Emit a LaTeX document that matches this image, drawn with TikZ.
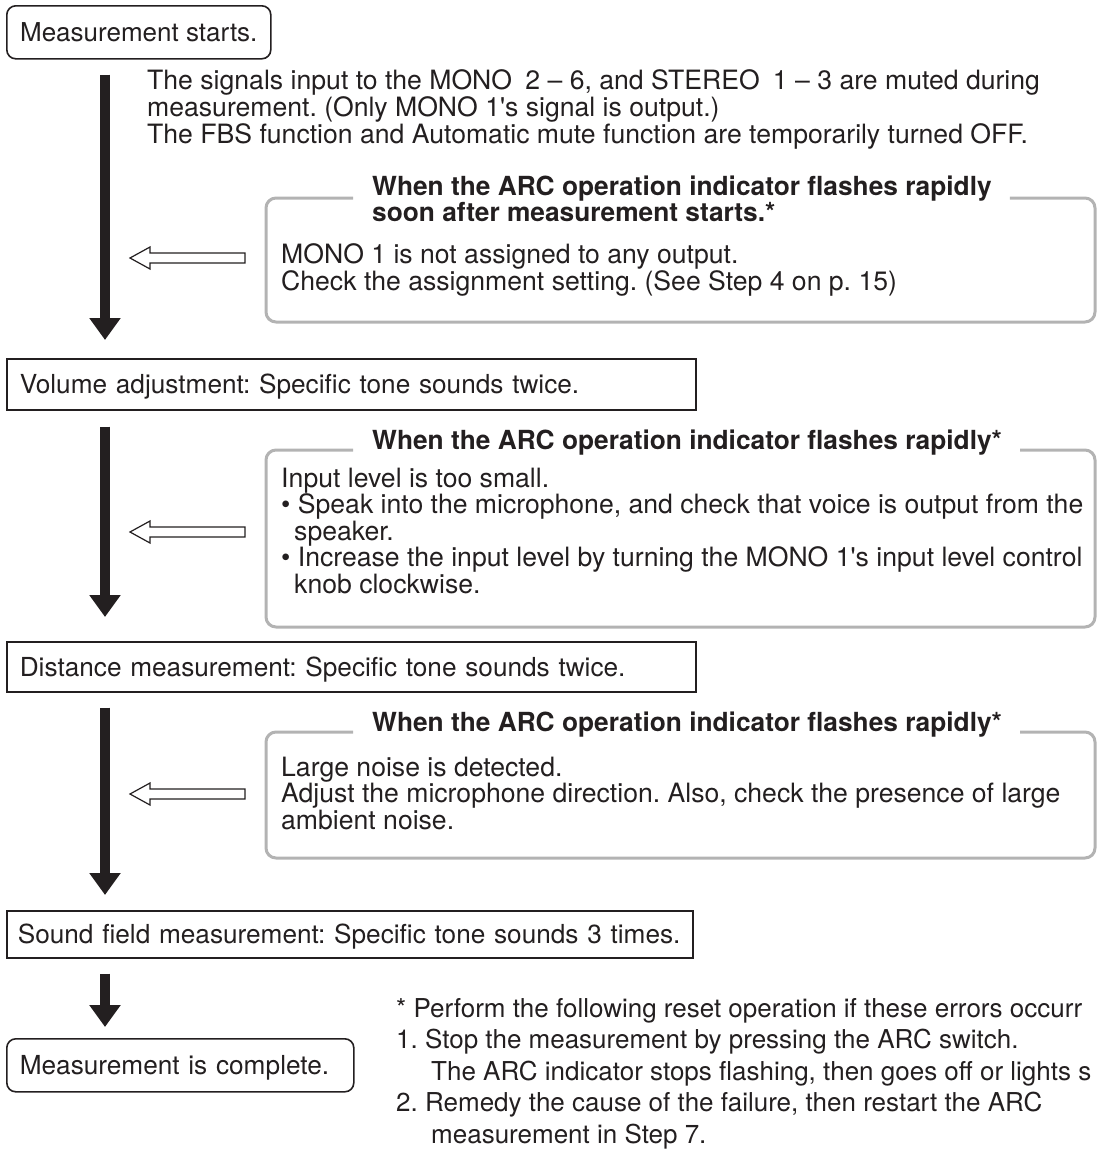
\documentclass[tikz,border=0pt]{standalone}
\usepackage{fontspec}
\setmainfont{TeX Gyre Heros}
\usetikzlibrary{arrows.meta, positioning, calc}
\definecolor{ink}{HTML}{231F20}
\definecolor{framegray}{HTML}{B3B3B3}
\frenchspacing

\begin{document}
\begin{tikzpicture}[x=1pt, y=-1pt,
    every node/.style={inner sep=0pt, text=ink, font=\fontsize{26.2}{24}\selectfont},
    stepbox/.style={draw=ink, line width=1.6pt, anchor=north west, inner xsep=13pt,
      text height=18.6pt, text depth=0pt, align=left},
    endbox/.style={stepbox, rounded corners=9pt},
    bodytext/.style={anchor=base west, align=left, font=\fontsize{26.6}{24}\selectfont},
    titletext/.style={bodytext, font=\fontsize{26.3}{24}\selectfont\bfseries},
    calloutframe/.style={draw=framegray, line width=3pt, rounded corners=10pt},
    flow/.style={draw=ink, line width=10pt, -{Triangle[width=30pt, length=22pt]}},
    hollow/.style={draw=ink, line width=1.2pt, fill=white, line join=miter}]

    \useasboundingbox (0,0) rectangle (1097,1149);
    \clip (0,0) rectangle (1097,1149);

    % Steps of the measurement
    \node[endbox, minimum width=264pt, minimum height=53pt, font=\fontsize{26}{24}\selectfont] (msstart) at (6,5) {Measurement starts.};
    \node[stepbox, text width=663pt, minimum height=51pt] (volbox) at (6,358) {Volume adjustment: Specific tone sounds twice.};
    \node[stepbox, text width=663pt, minimum height=50pt] (distbox) at (6,641) {Distance measurement: Specific tone sounds twice.};
    \node[stepbox, inner xsep=11pt, text width=664pt, minimum height=47pt] (fieldbox) at (6,910) {Sound field measurement: Specific tone sounds 3 times.};
    \node[endbox, text width=321pt, minimum height=53pt] (donebox) at (6,1038) {Measurement is complete.};

    % Flow arrows
    \coordinate (ax) at (105,0);
    \draw[flow] ($(msstart.south -| ax)+(0,15)$) -- ($(volbox.north -| ax)+(0,-18)$);
    \draw[flow] ($(volbox.south -| ax)+(0,16)$) -- ($(distbox.north -| ax)+(0,-24)$);
    \draw[flow] ($(distbox.south -| ax)+(0,15)$) -- ($(fieldbox.north -| ax)+(0,-15)$);
    \draw[flow] ($(fieldbox.south -| ax)+(0,15)$) -- ($(donebox.north -| ax)+(0,-11)$);

    % Note under the first step (base = last line)
    \node[bodytext] (mutenote) at (147,143) {The signals input to the MONO\enspace 2 – 6, and STEREO\enspace 1 – 3 are muted during\\
      measurement. (Only MONO 1\textquotesingle s signal is output.)\\
      The FBS function and Automatic mute function are temporarily turned OFF.};

    % Callout 1
    \node[titletext] (title1) at (372,221) {When the ARC operation indicator flashes rapidly\\soon after measurement starts.*};
    \node[bodytext] (body1) at (281,290) {MONO 1 is not assigned to any output.\\Check the assignment setting. (See Step 4 on p. 15)};
    \draw[calloutframe] ($(title1.base west)+(-19,-23)$) -| (266,322) -| (1095,198) -- ($(title1.base east)+(18,-23)$);

    % Callout 2
    \node[titletext] (title2) at (372,449) {When the ARC operation indicator flashes rapidly*};
    \node[bodytext] (body2) at (281,593) {Input level is too small.\\
      • Speak into the microphone, and check that voice is output from the\\
      \hspace*{13pt}speaker.\\
      • Increase the input level by turning the MONO 1\textquotesingle s input level control\\
      \hspace*{13pt}knob clockwise.};
    \draw[calloutframe] ($(title2.base west)+(-19,1)$) -| (266,627) -| (1095,450) -- ($(title2.base east)+(18,1)$);

    % Callout 3
    \node[titletext] (title3) at (372,731) {When the ARC operation indicator flashes rapidly*};
    \node[bodytext] (body3) at (281,829) {Large noise is detected.\\
      Adjust the microphone direction. Also, check the presence of large\\
      ambient noise.};
    \draw[calloutframe] ($(title3.base west)+(-19,1)$) -| (266,858) -| (1095,732) -- ($(title3.base east)+(18,1)$);

    % Hollow arrows pointing back to the flow
    \foreach \n/\y in {1/258, 2/532, 3/794} {
      \coordinate (tip\n) at (130,\y);
      \draw[hollow] (tip\n) -- ++(20,-11) -- ++(0,6) -- ++(95,0) -- ++(0,10) -- ++(-95,0) -- ++(0,6) -- cycle;
    }

    % Reset note (base = last line)
    \node[bodytext, font=\fontsize{26}{31.5}\selectfont] (resetnote) at (396,1143) {* Perform the following reset operation if these errors occurr\\
      1. Stop the measurement by pressing the ARC switch.\\
      \hspace*{35pt}The ARC indicator stops flashing, then goes off or lights s\\
      2. Remedy the cause of the failure, then restart the ARC\\
      \hspace*{35pt}measurement in Step 7.};
\end{tikzpicture}
\end{document}
